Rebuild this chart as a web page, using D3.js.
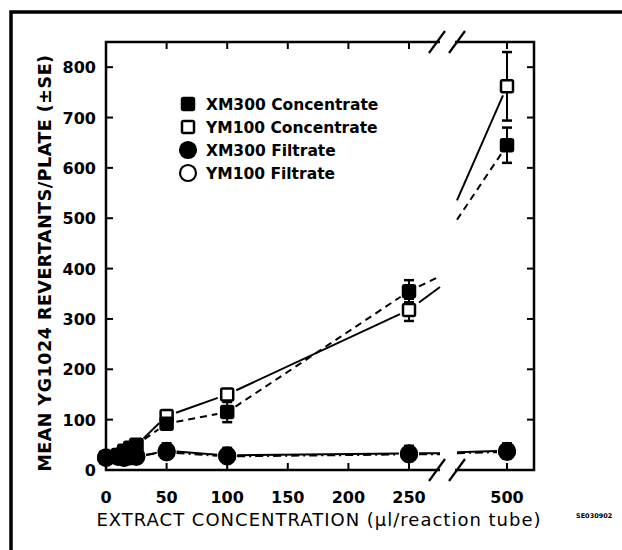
<!DOCTYPE html>
<html>
<head>
<meta charset="utf-8">
<script src="https://cdn.jsdelivr.net/npm/d3@7"></script>
<style>
  body { margin: 0; background: #fff; }
  text { font-family: "DejaVu Sans", sans-serif; fill: #000; }
</style>
</head>
<body>
<div id="main-frame"></div>
<script>
// doses (ul / reaction tube) and the axis ticks
var doses = [0, 10, 15, 20, 25, 50, 100, 250, 500];
var xTicks = [0, 50, 100, 150, 200, 250, 500];
var yTicks = [0, 100, 200, 300, 400, 500, 600, 700, 800];

// mean revertants per plate, and standard errors
var xm300Conc   = [25, 30, 38, 44, 50, 92, 115, 355, 645];
var xm300ConcSE = [3, 4, 4, 5, 6, 6, 20, 22, 35];
var ym100Conc   = [25, 29, 36, 42, 49, 107, 150, 318, 762];
var ym100ConcSE = [3, 4, 4, 5, 5, 8, 10, 22, 68];
var xm300Filt   = [25, 26, 24, 28, 26, 38, 29, 33, 38];
var xm300FiltSE = [3, 3, 3, 3, 3, 15, 15, 15, 15];
var ym100Filt   = [24, 27, 25, 27, 28, 35, 27, 31, 36];
var ym100FiltSE = [3, 3, 3, 3, 3, 4, 3, 3, 4];

var seriesNames = ["XM300 Concentrate", "YM100 Concentrate", "XM300 Filtrate", "YM100 Filtrate"];

var width = 622, height = 550;
var plotL = 106, plotR = 534, plotT = 42, plotB = 470;
var breakL = 440, breakR = 457;
var gap = 10;

var svg = d3.select("#main-frame").append("svg")
  .attr("width", width)
  .attr("height", height);

// broken x axis: 0-250 linear, then jump to 500
var x = d3.scaleLinear().domain([0, 250, 500]).range([plotL, 409, 507]);
var xLin = d3.scaleLinear().domain([0, 250]).range([plotL, 409]);
var y = d3.scaleLinear().domain([0, 850]).range([plotB, plotT]);

// drawing order: open markers first so filled ones sit on top
var series = [
  { name: seriesNames[3], vals: ym100Filt, se: ym100FiltSE, marker: "circle", fill: "#fff", dash: "8,4,2,4" },
  { name: seriesNames[1], vals: ym100Conc, se: ym100ConcSE, marker: "square", fill: "#fff", dash: null },
  { name: seriesNames[0], vals: xm300Conc, se: xm300ConcSE, marker: "square", fill: "#000", dash: "7,5" },
  { name: seriesNames[2], vals: xm300Filt, se: xm300FiltSE, marker: "circle", fill: "#000", dash: null }
];

// outer frame of the figure
svg.append("path")
  .attr("d", "M11,560 L11,12 L640,12")
  .style("fill", "none")
  .style("stroke", "#000")
  .style("stroke-width", 3.5);

// plot frame with gaps for the axis break
var frame = svg.append("g")
  .style("fill", "none")
  .style("stroke", "#000")
  .style("stroke-width", 2.5);
frame.append("path").attr("d", "M" + breakL + "," + plotT + " L" + plotL + "," + plotT + " L" + plotL + "," + plotB + " L" + breakL + "," + plotB);
frame.append("path").attr("d", "M" + (breakR - 2) + "," + plotT + " L" + plotR + "," + plotT + " L" + plotR + "," + plotB + " L" + (breakR - 2) + "," + plotB);

// break marks
[plotT, plotB].forEach(function(yy) {
  [437, 457].forEach(function(xx) {
    svg.append("line")
      .attr("x1", xx - 8).attr("y1", yy + 11)
      .attr("x2", xx + 8).attr("y2", yy - 11)
      .style("stroke", "#000")
      .style("stroke-width", 2.2);
  });
});

// inward ticks on all four sides
var tickLen = 7;
xTicks.slice(1).forEach(function(t) {
  svg.append("line").attr("x1", x(t)).attr("x2", x(t)).attr("y1", plotB).attr("y2", plotB - tickLen)
    .style("stroke", "#000").style("stroke-width", 2);
  svg.append("line").attr("x1", x(t)).attr("x2", x(t)).attr("y1", plotT).attr("y2", plotT + tickLen)
    .style("stroke", "#000").style("stroke-width", 2);
});
yTicks.slice(1).forEach(function(t) {
  svg.append("line").attr("x1", plotL).attr("x2", plotL + tickLen).attr("y1", y(t)).attr("y2", y(t))
    .style("stroke", "#000").style("stroke-width", 2);
  svg.append("line").attr("x1", plotR).attr("x2", plotR - tickLen).attr("y1", y(t)).attr("y2", y(t))
    .style("stroke", "#000").style("stroke-width", 2);
});

// tick labels
svg.selectAll(".xlab").data(xTicks).enter().append("text")
  .attr("x", function(d) { return x(d); })
  .attr("y", 503)
  .attr("text-anchor", "middle")
  .style("font-size", "16px")
  .style("font-weight", "bold")
  .text(function(d) { return d; });

svg.selectAll(".ylab").data(yTicks).enter().append("text")
  .attr("x", 96)
  .attr("y", function(d) { return y(d) + 6; })
  .attr("text-anchor", "end")
  .style("font-size", "16px")
  .style("font-weight", "bold")
  .text(function(d) { return d; });

// axis titles
svg.append("text")
  .attr("transform", "translate(51,263) rotate(-90)")
  .attr("text-anchor", "middle")
  .style("font-size", "17.5px")
  .style("font-weight", "bold")
  .style("letter-spacing", "0.5px")
  .text("MEAN YG1024 REVERTANTS/PLATE (\u00b1SE)");

svg.append("text")
  .attr("x", 319)
  .attr("y", 526)
  .attr("text-anchor", "middle")
  .style("font-size", "18px")
  .style("letter-spacing", "1px")
  .text("EXTRACT CONCENTRATION (\u03bcl/reaction tube)");

svg.append("text")
  .attr("x", 576)
  .attr("y", 518)
  .style("font-size", "6.5px")
  .style("font-weight", "bold")
  .text("SE030902");

// connecting lines, stopped short of markers and split at the break
function segments(vals) {
  var out = [];
  for (var i = 0; i < doses.length - 1; i++) {
    var x1 = x(doses[i]), y1 = y(vals[i]), x2 = x(doses[i + 1]), y2 = y(vals[i + 1]);
    var dx = x2 - x1, dy = y2 - y1, len = Math.sqrt(dx * dx + dy * dy);
    if (len < gap * 2 + 4) continue;
    var ax = x1 + dx * gap / len, ay = y1 + dy * gap / len;
    var bx = x2 - dx * gap / len, by = y2 - dy * gap / len;
    if (x1 < breakL && x2 > breakR) {
      // before the break the line keeps its true slope on the 0-250 scale
      var slope = (vals[i + 1] - vals[i]) / (doses[i + 1] - doses[i]);
      var d0 = xLin.invert(x1 + gap), dB = xLin.invert(breakL);
      out.push([[x1 + gap, y(vals[i] + slope * (d0 - doses[i]))], [breakL, y(vals[i] + slope * (dB - doses[i]))]]);
      out.push([[breakR, y1 + dy * (breakR - x1) / dx], [bx, by]]);
    } else {
      out.push([[ax, ay], [bx, by]]);
    }
  }
  return out;
}

var line = d3.line();
series.forEach(function(s) {
  segments(s.vals).forEach(function(seg) {
    svg.append("path")
      .attr("d", line(seg))
      .style("fill", "none")
      .style("stroke", "#000")
      .style("stroke-width", 2)
      .style("stroke-dasharray", s.dash);
  });
});

// error bars
series.forEach(function(s) {
  s.vals.forEach(function(v, i) {
    var cx = x(doses[i]);
    var lo = Math.max(0, v - s.se[i]), hi = v + s.se[i];
    svg.append("line").attr("x1", cx).attr("x2", cx).attr("y1", y(lo)).attr("y2", y(hi))
      .style("stroke", "#000").style("stroke-width", 2);
    [lo, hi].forEach(function(e) {
      svg.append("line").attr("x1", cx - 5).attr("x2", cx + 5).attr("y1", y(e)).attr("y2", y(e))
        .style("stroke", "#000").style("stroke-width", 2.5);
    });
  });
});

function drawMarker(g, type, fill, cx, cy) {
  if (type === "circle") {
    g.append("circle").attr("cx", cx).attr("cy", cy).attr("r", 8)
      .style("fill", fill).style("stroke", "#000").style("stroke-width", 2.2);
  } else {
    g.append("rect").attr("x", cx - 6).attr("y", cy - 6).attr("width", 12).attr("height", 12)
      .attr("rx", 1.5)
      .style("fill", fill).style("stroke", "#000").style("stroke-width", 2.5);
  }
}

// markers
series.forEach(function(s) {
  s.vals.forEach(function(v, i) {
    drawMarker(svg, s.marker, s.fill, x(doses[i]), y(v));
  });
});

// legend
var legendOrder = [2, 1, 3, 0];
legendOrder.forEach(function(k, i) {
  var s = series[k];
  var ly = 104 + i * 23;
  drawMarker(svg, s.marker, s.fill, 188, ly);
  svg.append("text")
    .attr("x", 206)
    .attr("y", ly + 6)
    .style("font-size", "15.5px")
    .style("font-weight", "bold")
    .text(s.name);
});
</script>
</body>
</html>
